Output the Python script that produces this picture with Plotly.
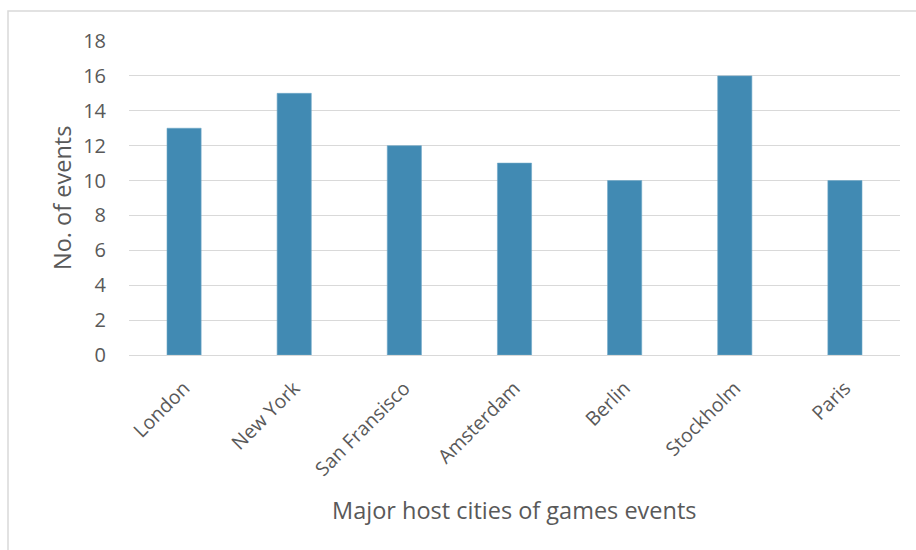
import plotly.graph_objects as go

cities = ["London", "New York", "San Fransisco", "Amsterdam", "Berlin", "Stockholm", "Paris"]
events = [13, 15, 12, 11, 10, 16, 10]
y_ticks = [0, 2, 4, 6, 8, 10, 12, 14, 16, 18]

font_family = "Open Sans, Liberation Sans, sans-serif"
text_color = "#595959"
grid_color = "#D9D9D9"

fig = go.Figure(
    go.Bar(
        x=cities,
        y=events,
        width=0.31,
        marker=dict(color="#418AB3", line=dict(color="#6FA7C8", width=0.6)),
        hoverinfo="x+y",
    )
)

L, R, T, B = 129, 16, 41, 195
W, H = 916, 550
pw = W - L - R
ph = H - T - B

fig.update_layout(
    width=W,
    height=H,
    margin=dict(l=L, r=R, t=T, b=B, pad=0),
    paper_bgcolor="white",
    plot_bgcolor="white",
    showlegend=False,
    font=dict(family=font_family, color=text_color),
    xaxis=dict(
        tickangle=-45,
        tickfont=dict(size=19.5, color=text_color),
        showgrid=False,
        showline=False,
        ticks="",
        ticklabelstandoff=17,
        automargin=False,
    ),
    yaxis=dict(
        range=[0, 18],
        tickvals=y_ticks,
        tickfont=dict(size=20, color=text_color),
        showgrid=True,
        gridcolor=grid_color,
        gridwidth=1.3,
        zeroline=True,
        zerolinecolor=grid_color,
        zerolinewidth=1.3,
        showline=False,
        ticks="",
        ticklabelstandoff=22,
        automargin=False,
    ),
    annotations=[
        dict(
            text="Major host cities of games events",
            xref="paper", yref="paper",
            x=0.5, y=(H - B - 510) / ph,
            xanchor="center", yanchor="middle",
            showarrow=False,
            font=dict(size=23.5, color=text_color),
        ),
        dict(
            text="No. of events",
            xref="paper", yref="paper",
            x=(62 - L) / pw, y=0.5,
            xanchor="center", yanchor="middle",
            textangle=-90,
            showarrow=False,
            font=dict(size=23.5, color=text_color),
        ),
    ],
    shapes=[
        dict(
            type="rect",
            xref="paper",
            yref="paper",
            x0=(8 - L) / pw,
            x1=(W + 20 - L) / pw,
            y0=(H - B - (H + 20)) / ph,
            y1=(H - B - 11) / ph,
            line=dict(color=grid_color, width=1.5),
            fillcolor="rgba(0,0,0,0)",
            layer="below",
        )
    ],
)

fig.write_html("out.html")
